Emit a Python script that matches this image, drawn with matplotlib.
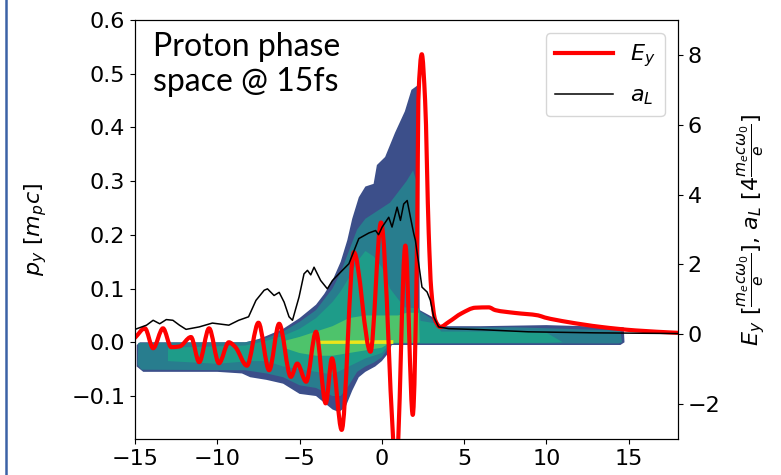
import numpy as np
import matplotlib
matplotlib.use('Agg')
from matplotlib import pyplot as plt
from matplotlib.lines import Line2D
from matplotlib.path import Path
from matplotlib.patches import PathPatch

plt.rcParams['font.family'] = 'DejaVu Sans'
plt.rcParams['font.size'] = 16

# ---- data ----
# E_y (right axis), extrema and shoulder points
ey_x = [-15.0, -14.4, -13.9, -13.3, -12.8, -12.3, -11.6, -11.1, -10.5, -9.9, -9.3, -8.9, -8.2,
        -7.5, -6.85, -6.24, -5.53, -5.14, -4.6, -4.0, -3.41, -3.03, -2.44, -1.7, -0.69, -0.05,
        0.88, 1.43, 1.88, 2.15, 2.22, 2.43, 2.63, 2.85, 3.0, 3.25, 3.55, 4.06, 4.85, 5.68,
        6.5, 6.9, 8.1, 9.5, 9.9, 11.3, 13.3, 15.4, 18.0]
ey_v = [-0.1, 0.17, -0.4, 0.17, -0.37, -0.35, -0.08, -0.8, 0.17, -0.83, -0.23, -0.37, -0.9,
        0.33, -1.03, 0.3, -1.22, -0.84, -1.36, 0.07, -1.98, -0.69, -2.74, 2.35, -0.5, 3.2,
        -3.8, 2.54, -2.31, 2.9, 6.7, 8.02, 6.7, 2.9, 1.3, 0.4, 0.21, 0.35, 0.6, 0.76,
        0.77, 0.69, 0.61, 0.54, 0.48, 0.35, 0.21, 0.11, 0.04]

# a_L (right axis)
al_x = [-15.0, -14.3, -13.9, -13.5, -13.1, -12.7, -12.3, -11.9, -11.1, -10.3, -9.3, -8.7, -8.1,
        -7.65, -7.15, -6.95, -6.55, -6.24, -5.94, -5.64, -5.43, -5.03, -4.73, -4.52, -4.32, -4.12,
        -3.72, -3.31, -3.0, -2.4, -2.0, -1.4, -0.79, -0.38, -0.2, 0.02, 0.42, 0.62, 0.93, 1.13,
        1.33, 1.54, 1.74, 1.94, 2.04, 2.24, 2.44, 2.75, 2.95, 3.15, 3.45, 4.06, 6.1, 8.9, 13.0, 18.0]
al_v = [0.14, 0.26, 0.4, 0.3, 0.42, 0.4, 0.26, 0.14, 0.21, 0.32, 0.26, 0.4, 0.5,
        0.97, 1.26, 1.3, 1.11, 1.2, 0.92, 0.5, 0.4, 1.07, 1.73, 1.83, 1.7, 1.92,
        1.54, 1.3, 1.54, 1.83, 2.02, 2.74, 2.9, 2.97, 2.85, 3.07, 3.35, 3.07, 3.64, 3.26,
        3.73, 3.83, 3.35, 2.88, 2.69, 2.02, 1.35, 1.21, 0.97, 0.5, 0.21, 0.16, 0.13, 0.07, 0.04, 0.02]

# proton phase space, drawn as nested density levels (outline: top edge, bottom edge)
lvl_outer_top_x = [-14.9, -14.7, -8.3, -7.5, -7.0, -6.0, -5.0, -4.0, -3.5, -3.0, -2.5, -2.1, -1.8,
                   -1.4, -1.0, -0.5, -0.3, 0.2, 0.8, 1.4, 1.8, 2.25, 2.3, 3.2, 3.6, 6.0, 10.0, 14.7, 14.75]
lvl_outer_top_p = [-0.005, 0.0, 0.0, 0.006, 0.012, 0.025, 0.045, 0.07, 0.09, 0.115, 0.15, 0.19, 0.23,
                   0.27, 0.29, 0.295, 0.33, 0.345, 0.39, 0.43, 0.47, 0.48, 0.06, 0.045, 0.03, 0.03, 0.032, 0.028, 0.0]
lvl_outer_bot_x = [14.5, 0.6, 0.4, 0.0, -0.4, -1.0, -1.4, -1.8, -2.2, -2.6, -3.0, -4.0, -5.0, -6.0,
                   -7.0, -8.0, -8.5, -10.0, -14.5, -14.9]
lvl_outer_bot_p = [-0.005, -0.005, -0.02, -0.035, -0.045, -0.055, -0.065, -0.09, -0.12, -0.13, -0.125,
                   -0.10, -0.096, -0.077, -0.07, -0.065, -0.058, -0.055, -0.055, -0.045]

lvl_mid_top_x = [-14.8, -8.3, -7.0, -6.0, -5.0, -4.0, -3.0, -2.5, -2.0, -1.5, -1.0, -0.5, 0.0, 0.5,
                 1.0, 1.5, 1.9, 2.1, 2.2, 3.2, 3.6, 8.0, 14.5, 14.6]
lvl_mid_top_p = [-0.001, 0.0, 0.008, 0.02, 0.038, 0.06, 0.1, 0.13, 0.17, 0.21, 0.23, 0.24, 0.25, 0.26,
                 0.28, 0.3, 0.32, 0.3, 0.06, 0.04, 0.027, 0.028, 0.022, 0.0]
lvl_mid_bot_x = [14.4, 0.6, 0.3, 0.0, -0.5, -1.0, -1.5, -2.0, -2.5, -3.0, -4.0, -5.0, -6.0, -7.0,
                 -8.3, -14.6, -14.85]
lvl_mid_bot_p = [-0.002, -0.002, -0.015, -0.028, -0.038, -0.045, -0.055, -0.08, -0.1, -0.1, -0.085,
                 -0.08, -0.065, -0.058, -0.052, -0.051, -0.042]

lvl_core_top_x = [-13.0, -8.3, -7.0, -6.0, -5.0, -4.0, -3.0, -2.5, -2.0, -1.5, -1.0, -0.5, 0.0, 0.5,
                  1.0, 1.4, 2.3, 2.35, 3.3, 3.6, 8.0, 10.0, 11.0]
lvl_core_top_p = [-0.01, -0.006, 0.003, 0.012, 0.025, 0.045, 0.075, 0.095, 0.12, 0.15, 0.17, 0.16, 0.14, 0.1,
                  0.08, 0.065, 0.063, 0.04, 0.035, 0.02, 0.02, 0.018, 0.0]
lvl_core_bot_x = [10.0, 0.5, 0.0, -1.0, -2.0, -3.0, -4.0, -5.0, -6.0, -7.0, -8.0, -10.0, -13.0]
lvl_core_bot_p = [-0.001, -0.002, -0.02, -0.03, -0.045, -0.06, -0.055, -0.05, -0.045, -0.035, -0.035,
                  -0.04, -0.035]

lvl_hot_top_x = [-6.0, -5.0, -4.0, -3.0, -2.0, -1.0, 0.0, 1.0, 1.5, 2.25, 2.3]
lvl_hot_top_p = [0.002, 0.01, 0.02, 0.03, 0.045, 0.05, 0.05, 0.05, 0.055, 0.055, 0.0]
lvl_hot_bot_x = [2.2, 0.5, 0.0, -1.0, -2.0, -3.0, -4.0, -5.0, -6.0]
lvl_hot_bot_p = [-0.001, -0.001, -0.01, -0.015, -0.02, -0.025, -0.025, -0.02, -0.01]

lvl_peak_top_x = [-3.8, 0.7]
lvl_peak_top_p = [0.003, 0.004]
lvl_peak_bot_x = [0.7, -3.8]
lvl_peak_bot_p = [-0.003, -0.003]

levels = [
    (lvl_outer_top_x, lvl_outer_top_p, lvl_outer_bot_x, lvl_outer_bot_p, 0.24),
    (lvl_mid_top_x, lvl_mid_top_p, lvl_mid_bot_x, lvl_mid_bot_p, 0.42),
    (lvl_core_top_x, lvl_core_top_p, lvl_core_bot_x, lvl_core_bot_p, 0.55),
    (lvl_hot_top_x, lvl_hot_top_p, lvl_hot_bot_x, lvl_hot_bot_p, 0.72),
    (lvl_peak_top_x, lvl_peak_top_p, lvl_peak_bot_x, lvl_peak_bot_p, 0.97),
]


def smooth_path(x, y):
    # monotone cubic (pchip) segments as bezier curves, so the field looks smooth
    x = np.asarray(x, float)
    y = np.asarray(y, float)
    h = np.diff(x)
    d = np.diff(y) / h
    m = np.zeros_like(y)
    for i in range(1, len(x) - 1):
        if d[i - 1] * d[i] > 0:
            w1 = 2 * h[i] + h[i - 1]
            w2 = h[i] + 2 * h[i - 1]
            m[i] = (w1 + w2) / (w1 / d[i - 1] + w2 / d[i])
    m[0] = d[0]
    m[-1] = d[-1]
    verts = [(x[0], y[0])]
    codes = [Path.MOVETO]
    for i in range(len(h)):
        verts += [(x[i] + h[i] / 3, y[i] + m[i] * h[i] / 3),
                  (x[i + 1] - h[i] / 3, y[i + 1] - m[i + 1] * h[i] / 3),
                  (x[i + 1], y[i + 1])]
        codes += [Path.CURVE4] * 3
    return Path(verts, codes)


fig = plt.figure(figsize=(7.81, 4.75), dpi=100)
ax = fig.add_axes([0.1729, 0.0758, 0.6952, 0.8821])

cmap = matplotlib.colormaps['viridis']
for tx, tp, bx, bp, c in levels:
    ax.fill(np.concatenate([tx, bx]), np.concatenate([tp, bp]), color=cmap(c), lw=0)

ax.set_xlim(-15, 18)
ax.set_ylim(-0.18, 0.6)
ax.set_yticks([-0.1, 0.0, 0.1, 0.2, 0.3, 0.4, 0.5, 0.6])
ax.set_xticks([-15, -10, -5, 0, 5, 10, 15])
ax.tick_params(labelsize=16)
ax.set_ylabel(r'$p_y\ [m_pc]$', fontsize=16, labelpad=16)

ax2 = ax.twinx()
ax2.add_patch(PathPatch(smooth_path(ey_x, ey_v), fill=False, edgecolor='red', lw=3,
                        capstyle='round', joinstyle='round'))
ax2.plot(al_x, al_v, color='black', lw=1.1)
ax2.set_ylim(-3, 9)
ax2.set_yticks([-2, 0, 2, 4, 6, 8])
ax2.tick_params(labelsize=16)
ax2.set_ylabel(r'$E_y\ [\frac{m_e c\omega_0}{e}]$, $a_L\ [4\frac{m_e c\omega_0}{e}]$', fontsize=16,
               labelpad=11)
handles = [Line2D([], [], color='red', lw=3), Line2D([], [], color='black', lw=1.1)]
ax2.legend(handles, [r'$E_y$', r'$a_L$'], loc='upper right', fontsize=16,
           handlelength=2.6, labelspacing=0.75, borderaxespad=0.6)

ax.text(0.033, 0.972, 'Proton phase\nspace @ 15fs', transform=ax.transAxes,
        ha='left', va='top', fontsize=23, family=['Lato', 'DejaVu Sans'])

# slide frame edge on the left
fig.add_artist(Line2D([0.0077, 0.0077], [0, 1], transform=fig.transFigure, color='#3c62a6', lw=1.8))

fig.savefig('out.png', dpi=100)
